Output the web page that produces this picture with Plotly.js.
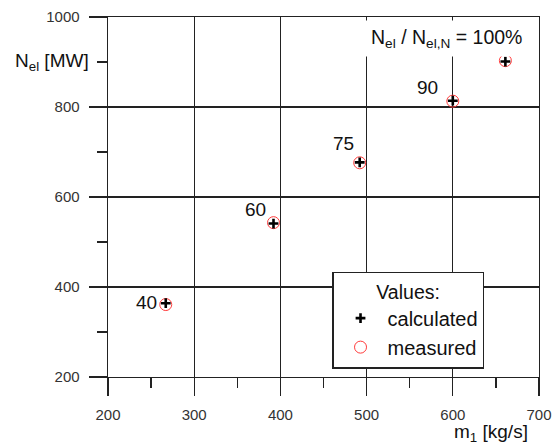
<!DOCTYPE html>
<html>
<head>
<meta charset="utf-8">
<script src="https://cdn.plot.ly/plotly-3.0.1.min.js"></script>
<style>html,body{margin:0;padding:0;background:#fff;}#chart{width:559px;height:445px;}</style>
</head>
<body>
<div id="chart"></div>
<script>
// Data
const massFlow = [267, 392, 492, 600, 661];            // m1 [kg/s]
const powerCalculated = [364, 541, 677, 814, 901];     // Nel [MW], calculated
const powerMeasured = [361, 543, 676, 813, 903];       // Nel [MW], measured
const loadLabels = ["40", "60", "75", "90", "N<sub>el</sub> / N<sub>el,N</sub> = 100%"];
const xTicks = [200, 300, 400, 500, 600, 700];
const yTicks = [200, 400, 600, 800, 1000];

// Label placement (styling only)
const labelShift = [
  {xs: -8, ys: 1, xa: "right"},
  {xs: -7, ys: 14, xa: "right"},
  {xs: -5, ys: 19, xa: "right"},
  {xs: -14, ys: 13, xa: "right"},
  {xs: -59, ys: 23, xa: "center"}
];

const FONT = "Liberation Sans, Arial, sans-serif";
const DARK = "#222";

const traces = [
  {
    x: massFlow, y: powerMeasured, name: "measured", type: "scatter", mode: "markers",
    legendrank: 2,
    marker: {symbol: "circle-open", size: 12, color: "#ff3b3b", line: {width: 1, color: "#ff3b3b"}},
    cliponaxis: false
  },
  {
    x: massFlow, y: powerCalculated, name: "calculated", type: "scatter", mode: "markers",
    legendrank: 1,
    marker: {symbol: "cross-thin", size: 7, color: "#000", line: {width: 2.6, color: "#000"}},
    cliponaxis: false
  }
];

const annotations = loadLabels.map((t, i) => ({
  x: massFlow[i], y: powerCalculated[i], xref: "x", yref: "y",
  text: t, showarrow: false,
  xanchor: labelShift[i].xa, yanchor: "middle",
  xshift: labelShift[i].xs, yshift: labelShift[i].ys,
  font: {family: FONT, size: i === loadLabels.length - 1 ? 19.5 : 19, color: "#111"},
  bgcolor: i === loadLabels.length - 1 ? "#fff" : "rgba(0,0,0,0)",
  borderpad: i === loadLabels.length - 1 ? 5 : 0
}));

annotations.push({
  xref: "paper", yref: "y", x: -0.04, y: 900, xanchor: "right", yanchor: "middle",
  text: "N<sub>el</sub> [MW]", showarrow: false,
  font: {family: FONT, size: 19, color: "#111"}
});
annotations.push({
  xref: "paper", yref: "paper", x: 0.98, y: -0.155, xanchor: "right", yanchor: "middle",
  text: "m<sub>1</sub> [kg/s]", showarrow: false,
  font: {family: FONT, size: 19, color: "#111"}
});

const axisCommon = {
  showgrid: true, gridcolor: DARK, gridwidth: 1.4,
  showline: true, linecolor: DARK, linewidth: 1.4, mirror: true,
  ticks: "outside", ticklen: 18, tickwidth: 1.4, tickcolor: DARK,
  zeroline: false,
  tickfont: {family: FONT, size: 15, color: "#333"},
  ticklabelstandoff: 6,
  tickmode: "array"
};

const layout = {
  width: 559, height: 445,
  margin: {l: 108, r: 20, t: 17, b: 68},
  paper_bgcolor: "#fff", plot_bgcolor: "#fff",
  showlegend: true,
  xaxis: Object.assign({}, axisCommon, {
    range: [200, 700], tickvals: xTicks, ticktext: xTicks.map(String),
    minor: {tickmode: "linear", tick0: 250, dtick: 100, ticks: "outside", ticklen: 10, tickwidth: 1.4, tickcolor: DARK, showgrid: false}
  }),
  yaxis: Object.assign({}, axisCommon, {
    range: [200, 1000], tickvals: yTicks, ticktext: yTicks.map(String),
    minor: {tickmode: "linear", tick0: 300, dtick: 200, ticks: "outside", ticklen: 10, tickwidth: 1.4, tickcolor: DARK, showgrid: false}
  }),
  legend: {
    x: 0.52, y: 0.292, xanchor: "left", yanchor: "top",
    bgcolor: "#fff", bordercolor: DARK, borderwidth: 1.4,
    font: {family: FONT, size: 20, color: "#111"},
    title: {text: "Values:", side: "top center", font: {family: FONT, size: 19.5, color: "#111"}},
    itemsizing: "trace",
    itemwidth: 44
  },
  annotations: annotations
};

Plotly.newPlot("chart", traces, layout, {staticPlot: true, displayModeBar: false});
</script>
</body>
</html>
